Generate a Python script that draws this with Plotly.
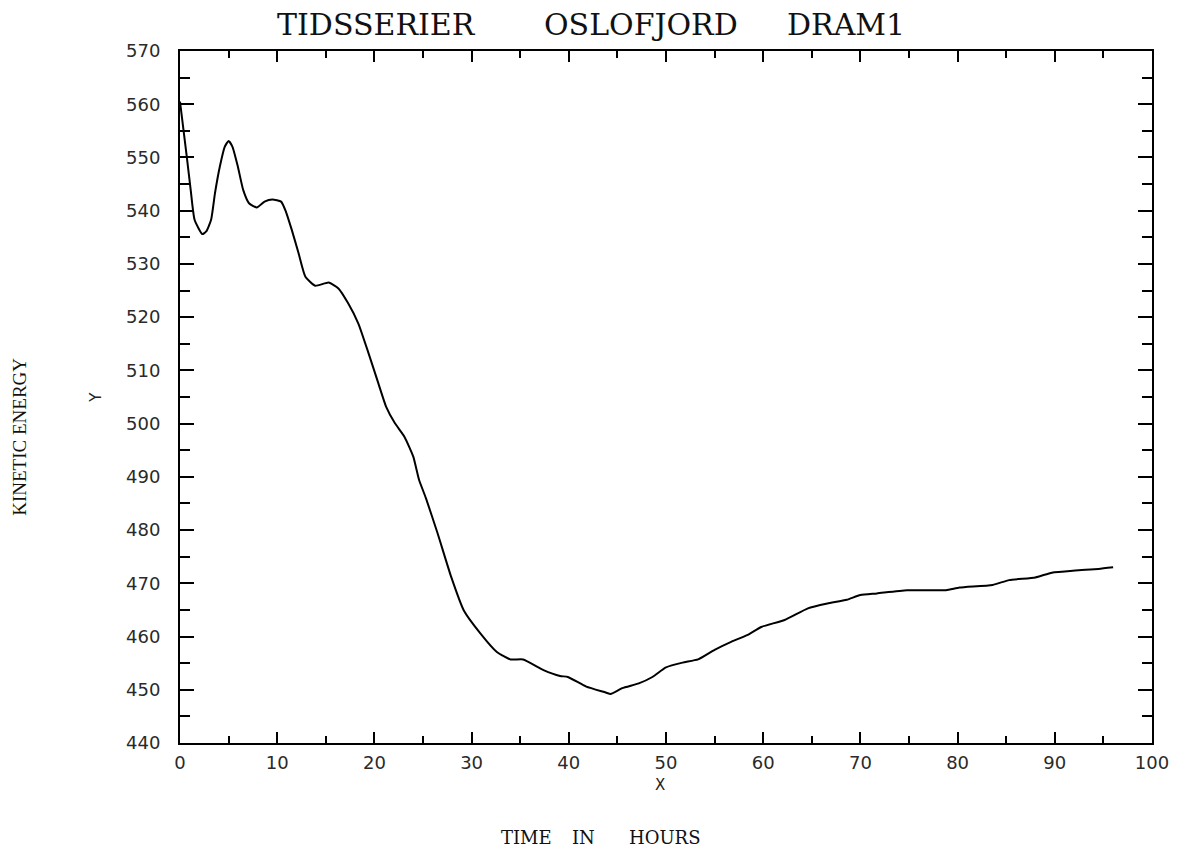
import plotly.graph_objects as go

# serie de energia cinetica
hours = [0, 0.7, 1.1, 1.5, 2.3, 2.7, 3.2, 3.6, 4.1, 4.6, 5.0, 5.4, 5.95, 6.5, 7.1,
         7.9, 8.7, 9.5, 10.4, 10.9, 11.5, 12.2, 12.9, 13.9, 15.3, 16.3, 17.3, 18.35,
         19.4, 20.4, 21.2, 22.1, 23.1, 24.0, 24.6, 25.3, 26.5, 27.9, 29.2, 30.9, 32.6,
         34.0, 35.3, 37.4, 39.1, 39.9, 41.8, 43.8, 44.3, 45.5, 47.2, 48.6, 50.0, 51.7,
         53.3, 55.0, 56.7, 58.4, 59.8, 62.2, 64.6, 66.6, 68.6, 70.0, 71.7, 74.8, 78.8,
         80.2, 83.6, 85.3, 88.0, 89.7, 92.1, 94.5, 96.0]
energy = [560.5, 550.1, 543.9, 538.3, 535.6, 536.1, 538.3, 543.3, 548.3, 552.0, 553.1,
          552.0, 548.3, 543.9, 541.4, 540.6, 541.7, 542.1, 541.7, 539.8, 536.4, 532.0,
          527.6, 525.9, 526.5, 525.4, 522.6, 518.8, 513.2, 507.6, 503.2, 500.1, 497.5,
          493.8, 489.4, 486.0, 479.4, 471.2, 464.9, 460.6, 457.1, 455.7, 455.7, 453.7,
          452.6, 452.4, 450.6, 449.5, 449.2, 450.3, 451.2, 452.4, 454.2, 455.1, 455.7,
          457.5, 459.0, 460.3, 461.8, 463.1, 465.3, 466.2, 466.9, 467.8, 468.1, 468.7,
          468.7, 469.2, 469.7, 470.6, 471.1, 472.0, 472.4, 472.7, 473.0]

# titulo y etiquetas (en palabras sueltas para imitar el espaciado ancho)
title_words = ["TIDSSERIER", "OSLOFJORD", "DRAM1"]
title_pos = [0.202, 0.474, 0.685]
xlabel_words = ["TIME", "IN", "HOURS"]
xlabel_pos = [0.356, 0.415, 0.4985]
ylabel_txt = "KINETIC ENERGY"

tickfont = dict(family="DejaVu Sans", size=18, color="#2a2a2a")
serif = "DejaVu Serif"

fig = go.Figure()
fig.add_trace(go.Scatter(
    x=hours, y=energy, mode="lines",
    line=dict(color="black", width=2, shape="spline", smoothing=0.5),
    showlegend=False,
))

axis_common = dict(
    showline=True, linecolor="black", linewidth=2, mirror="ticks",
    ticks="inside", tickcolor="black", tickwidth=2,
    showgrid=False, zeroline=False, tickfont=tickfont,
)

fig.update_xaxes(
    range=[0, 100], dtick=10, ticklen=11,
    minor=dict(dtick=5, ticks="inside", ticklen=7, tickcolor="black", tickwidth=2),
    ticklabelstandoff=2,
    **axis_common,
)
fig.update_yaxes(
    range=[440, 570], dtick=10, ticklen=14,
    minor=dict(dtick=5, ticks="inside", ticklen=10, tickcolor="black", tickwidth=2),
    ticklabelstandoff=14,
    **axis_common,
)

ann = []
for w, p in zip(title_words, title_pos):
    ann.append(dict(text=w, x=p, y=1.039, xref="paper", yref="paper",
                    xanchor="center", yanchor="middle", showarrow=False,
                    font=dict(family=serif, size=30, color="#111")))
for w, p in zip(xlabel_words, xlabel_pos):
    ann.append(dict(text=w, x=p, y=-0.137, xref="paper", yref="paper",
                    xanchor="center", yanchor="middle", showarrow=False,
                    font=dict(family=serif, size=18, color="#111")))
ann.append(dict(text="X", x=0.494, y=-0.061, xref="paper", yref="paper",
                xanchor="center", yanchor="middle",
                showarrow=False, font=dict(family="DejaVu Sans", size=15, color="#222")))
ann.append(dict(text="Y", x=-0.0866, y=0.5, xref="paper", yref="paper", textangle=-90,
                xanchor="center", yanchor="middle",
                showarrow=False, font=dict(family="DejaVu Sans", size=15, color="#222")))
ann.append(dict(text=ylabel_txt, x=-0.165, y=0.442, xref="paper", yref="paper",
                xanchor="center", yanchor="middle", textangle=-90, showarrow=False,
                font=dict(family="Liberation Serif", size=19, color="#111")))

# la pagina tiene 8px de margen en el body, se descuenta aqui
fig.update_layout(
    width=1173, height=842,
    margin=dict(l=172, r=20, t=43, b=107),
    paper_bgcolor="white", plot_bgcolor="white",
    annotations=ann,
)

fig.write_html("out.html")
